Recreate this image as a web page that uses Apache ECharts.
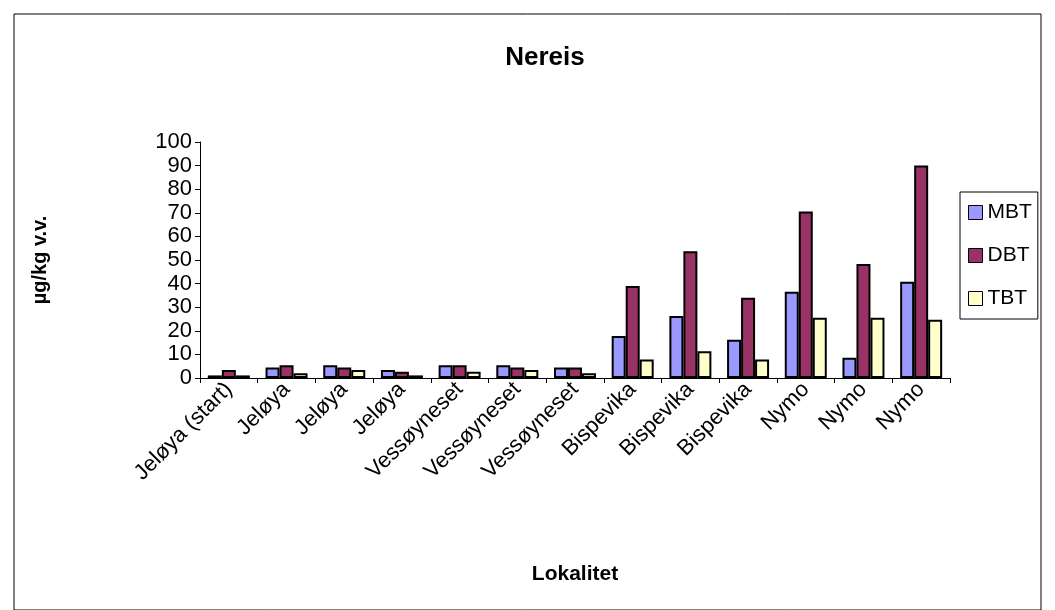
<!DOCTYPE html>
<html>
<head>
<meta charset="utf-8">
<script src="https://cdn.jsdelivr.net/npm/echarts@6/dist/echarts.min.js"></script>
<style>
    body { margin: 0; background: #fff; }
    #chart { width: 1055px; height: 610px; }
</style>
</head>
<body>
<div id="chart"></div>
<script>
    var categories = ['Jeløya (start)', 'Jeløya', 'Jeløya', 'Jeløya', 'Vessøyneset', 'Vessøyneset', 'Vessøyneset',
        'Bispevika', 'Bispevika', 'Bispevika', 'Nymo', 'Nymo', 'Nymo'];
    var mbt = [1.1, 4.5, 5.4, 3.4, 5.4, 5.4, 4.5, 17.8, 26.3, 16.2, 36.5, 8.6, 40.8];
    var dbt = [3.4, 5.4, 4.5, 2.6, 5.4, 4.5, 4.5, 39, 53.7, 34, 70.5, 48.3, 90];
    var tbt = [1.1, 2, 3.4, 1.1, 2.7, 3.4, 2, 7.8, 11.3, 7.8, 25.5, 25.5, 24.7];

    var chart = echarts.init(document.getElementById('chart'));
    var font = 'Arial, "Liberation Sans", sans-serif';
    function bar(name, data, color) {
        return {
            name: name, type: 'bar', data: data, barGap: '0%', barWidth: 14,
            itemStyle: { color: color, borderColor: '#000', borderWidth: 2 }
        };
    }
    chart.setOption({
        animation: false,
        textStyle: { fontFamily: font },
        title: {
            text: 'Nereis', left: 540, top: 40, textAlign: 'center',
            textStyle: { fontSize: 26, fontWeight: 'bold', color: '#000', fontFamily: font }
        },
        legend: {
            orient: 'vertical', left: 960, top: 192, itemGap: 22,
            itemWidth: 14, itemHeight: 14, icon: 'rect',
            borderColor: '#000', borderWidth: 1, padding: [10, 6, 10, 8],
            textStyle: { fontSize: 21, color: '#000', fontFamily: font },
            itemStyle: { borderColor: '#000', borderWidth: 1 }
        },
        grid: { left: 200, top: 142, width: 750, height: 236 },
        xAxis: {
            type: 'category', data: categories,
            name: 'Lokalitet', nameLocation: 'middle', nameGap: 186,
            nameTextStyle: { fontSize: 21, fontWeight: 'bold', color: '#000' },
            axisLine: { lineStyle: { color: '#000' } },
            axisTick: { show: true, alignWithLabel: false, lineStyle: { color: '#000' } },
            axisLabel: { rotate: 45, interval: 0, fontSize: 22, color: '#000', margin: 8 }
        },
        yAxis: {
            type: 'value', min: 0, max: 100, interval: 10,
            name: 'µg/kg v.v.', nameLocation: 'middle', nameGap: 150, nameRotate: 90,
            nameTextStyle: { fontSize: 20, fontWeight: 'bold', color: '#000' },
            axisLine: { show: true, lineStyle: { color: '#000' } },
            axisTick: { show: true, lineStyle: { color: '#000' } },
            splitLine: { show: false },
            axisLabel: { fontSize: 22, color: '#000', margin: 8 }
        },
        graphic: [{
            type: 'rect', shape: { x: 14, y: 14, width: 1027, height: 596 },
            style: { fill: 'none', stroke: '#000', lineWidth: 1 }, silent: true
        }],
        series: [
            bar('MBT', mbt, '#9999ff'),
            bar('DBT', dbt, '#993366'),
            bar('TBT', tbt, '#ffffcc')
        ]
    });
</script>
</body>
</html>
